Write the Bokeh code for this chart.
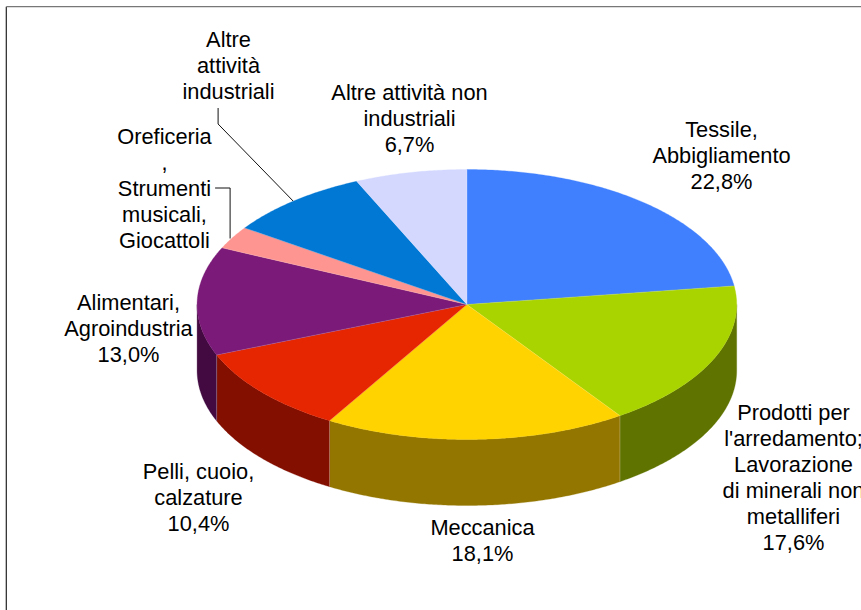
import numpy as np
from bokeh.plotting import figure
from bokeh.models import Range1d, ColumnDataSource
from bokeh.core.properties import value
from bokeh.embed import file_html
from bokeh.resources import INLINE

categories = ["Tessile, Abbigliamento",
              "Prodotti per l'arredamento; Lavorazione di minerali non metalliferi",
              "Meccanica", "Pelli, cuoio, calzature", "Alimentari, Agroindustria",
              "Oreficeria, Strumenti musicali, Giocattoli",
              "Altre attività industriali", "Altre attività non industriali"]
shares = [22.8, 17.6, 18.1, 10.4, 13.0, 2.7, 8.7, 6.7]
top_colors = ["#4080FF", "#AAD400", "#FFD300", "#E62600", "#7B1A78", "#FF9590", "#0078D4", "#D4D8FF"]
side_colors = ["#264D99", "#5F7300", "#937600", "#830F00", "#420A40", "#995955", "#004880", "#7F8199"]

label_lines = [
    ["Tessile,", "Abbigliamento", "22,8%"],
    ["Prodotti per", "l'arredamento;", "Lavorazione", "di minerali non", "metalliferi", "17,6%"],
    ["Meccanica", "18,1%"],
    ["Pelli, cuoio,", "calzature", "10,4%"],
    ["Alimentari,", "Agroindustria", "13,0%"],
    ["Oreficeria", ",", "Strumenti", "musicali,", "Giocattoli"],
    ["Altre", "attività", "industriali"],
    ["Altre attività non", "industriali", "6,7%"],
]
label_x = [721, 793, 482, 198, 128, 164, 228, 409]
label_y = [129, 412, 527, 471, 302, 136, 39, 92]
LINE_H = 25.9

CX, CY, RX, RY, DEPTH = 466.4, 304.0, 269.8, 135.0, 66.0


def arc(a0, a1):
    t = np.radians(np.linspace(a0, a1, max(int(abs(a1 - a0)) * 2, 2) + 1))
    return CX + RX * np.sin(t), CY - RY * np.cos(t)


p = figure(width=861, height=610, output_backend="svg", toolbar_location=None,
           x_range=Range1d(0, 861), y_range=Range1d(610, 0), min_border=0,
           outline_line_color=None, background_fill_color="white",
           border_fill_color="white")
p.styles = {"position": "absolute", "left": "0px", "top": "0px"}
p.xaxis.visible = False
p.yaxis.visible = False
p.grid.visible = False

# frame
p.line([5.8, 5.8], [6.2, 610], line_color="#222222", line_width=1.2)
p.line([5.8, 861], [6.2, 6.2], line_color="#777777", line_width=1.2)

edges = np.concatenate([[0], np.cumsum(shares)]) / np.sum(shares) * 360.0

# walls of the front half
for i in range(len(shares)):
    a0, a1 = max(edges[i], 90.0), min(edges[i + 1], 270.0)
    if a1 <= a0:
        continue
    x, y = arc(a0, a1)
    xs = np.concatenate([x, x[::-1]])
    ys = np.concatenate([y, y[::-1] + DEPTH])
    p.patch(xs, ys, fill_color=side_colors[i], line_color=side_colors[i], line_width=0.3)
    if a0 > 90.0:
        p.line([x[0], x[0]], [y[0], y[0] + DEPTH], line_color="#FFFFFF", line_alpha=0.3, line_width=0.8)

# top faces
for i in range(len(shares)):
    x, y = arc(edges[i], edges[i + 1])
    xs = np.concatenate([[CX], x])
    ys = np.concatenate([[CY], y])
    p.patch(xs, ys, fill_color=top_colors[i], line_color=top_colors[i], line_width=0.3)
for i in range(len(shares)):
    x, y = arc(edges[i], edges[i] + 0.001)
    p.line([CX, x[0]], [CY, y[0]], line_color="#FFFFFF", line_alpha=0.25, line_width=0.6)

# leaders
p.line([217.6, 217.6, 292.6], [107.5, 123.5, 200.5], line_color="#111111", line_width=1)
p.line([214.6, 229.6, 229.6], [187.5, 187.5, 238], line_color="#111111", line_width=1)

# labels
tx, ty, tt = [], [], []
for lines, lx, ly in zip(label_lines, label_x, label_y):
    for j, s in enumerate(lines):
        tx.append(lx)
        ty.append(ly + j * LINE_H)
        tt.append(s)
p.text(x="x", y="y", text="t", source=ColumnDataSource(dict(x=tx, y=ty, t=tt)),
       text_font=value("Liberation Sans"), text_font_size="21.8px", text_color="#000000",
       text_align="center", text_baseline="middle")

open("out.html", "w").write(file_html(p, INLINE))
